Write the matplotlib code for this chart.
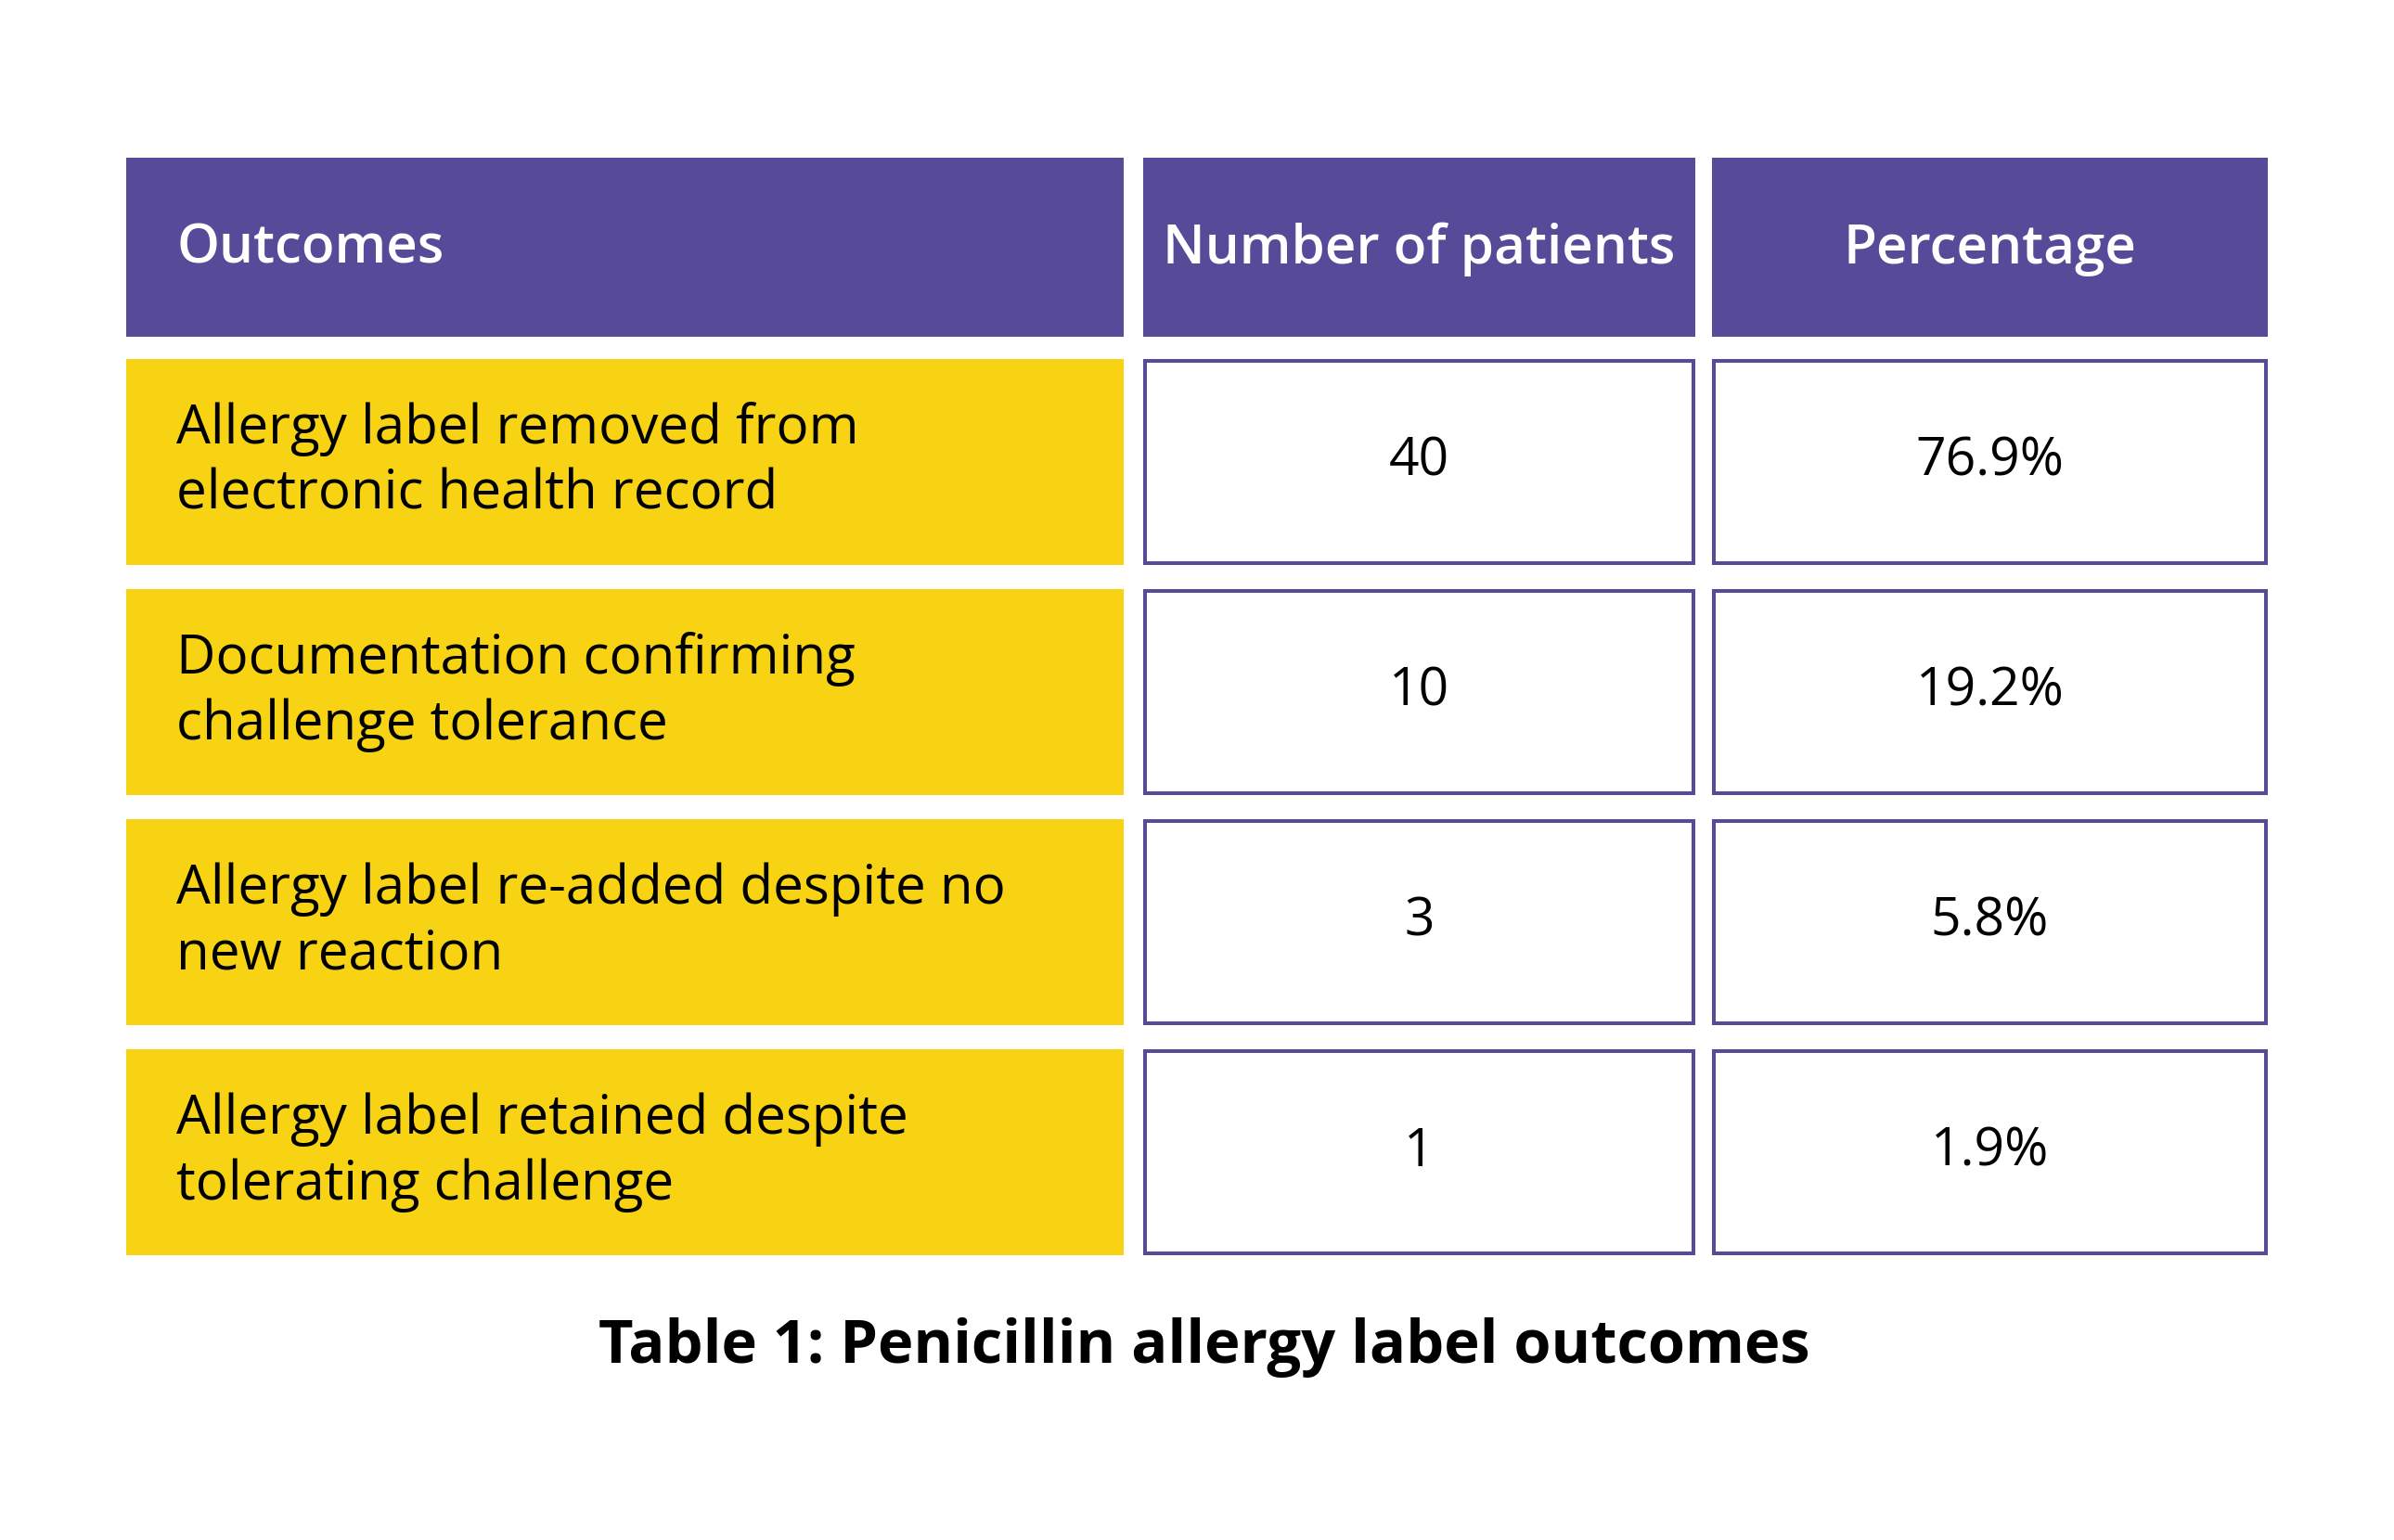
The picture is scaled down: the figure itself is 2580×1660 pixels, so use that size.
#!/usr/bin/env python3
"""
Penicillin allergy label outcomes table
"""
import matplotlib
matplotlib.use('Agg')
import matplotlib.pyplot as plt
from matplotlib.patches import Rectangle

headers = ['Outcomes', 'Number of patients', 'Percentage']
outcomes = [
    'Allergy label removed from\nelectronic health record',
    'Documentation confirming\nchallenge tolerance',
    'Allergy label re-added despite no\nnew reaction',
    'Allergy label retained despite\ntolerating challenge',
]
patients = [40, 10, 3, 1]
percentages = [76.9, 19.2, 5.8, 1.9]
caption = 'Table 1: Penicillin allergy label outcomes'

PURPLE = '#574a99'
YELLOW = '#f8d313'
FONT = ['Open Sans', 'DejaVu Sans']

W, H = 2580, 1660
DPI = 200


def px(width):
    """pixels to points"""
    return width * 72.0 / DPI


def main():
    fig = plt.figure(figsize=(W / DPI, H / DPI), dpi=DPI)
    ax = fig.add_axes([0, 0, 1, 1])
    ax.set_xlim(0, W)
    ax.set_ylim(H, 0)
    ax.axis('off')

    # column extents (left, right) and row layout
    cols = [(136, 1211), (1232, 1827), (1845, 2444)]
    head_top, head_bot = 170, 363
    row_top, row_h, row_pitch = 387, 222, 248
    border = 4

    # header
    for i, (x0, x1) in enumerate(cols):
        ax.add_patch(Rectangle((x0, head_top), x1 - x0, head_bot - head_top,
                               facecolor=PURPLE, edgecolor='none'))
        yc = (head_top + head_bot) / 2 + 2
        if i == 0:
            ax.text(x0 + 54, yc, headers[i], ha='left', va='center',
                    color='white', fontsize=21, fontweight='semibold',
                    family=FONT)
        else:
            ax.text((x0 + x1) / 2, yc, headers[i], ha='center', va='center',
                    color='white', fontsize=21, fontweight='semibold',
                    family=FONT)

    # body rows
    for r, (label, n, pct) in enumerate(zip(outcomes, patients, percentages)):
        y0 = row_top + r * row_pitch
        yc = y0 + row_h / 2
        x0, x1 = cols[0]
        ax.add_patch(Rectangle((x0, y0), x1 - x0, row_h,
                               facecolor=YELLOW, edgecolor='none'))
        ax.text(x0 + 54, yc, label, ha='left', va='center', color='black',
                fontsize=21, linespacing=1.28, family=FONT)
        for (cx0, cx1), val in zip(cols[1:], [str(n), f'{pct:.1f}%']):
            ax.add_patch(Rectangle((cx0 + border / 2, y0 + border / 2),
                                   cx1 - cx0 - border, row_h - border,
                                   facecolor='white', edgecolor=PURPLE,
                                   linewidth=px(border)))
            ax.text((cx0 + cx1) / 2, yc, val, ha='center', va='center',
                    color='black', fontsize=20.5, family=FONT)

    # caption
    ax.text((cols[0][0] + cols[2][1]) / 2 + 8, 1452, caption, ha='center',
            va='center', color='black', fontsize=23.4, fontweight='bold',
            family=FONT)

    fig.savefig('out.png', dpi=DPI, facecolor='white')


if __name__ == '__main__':
    main()
